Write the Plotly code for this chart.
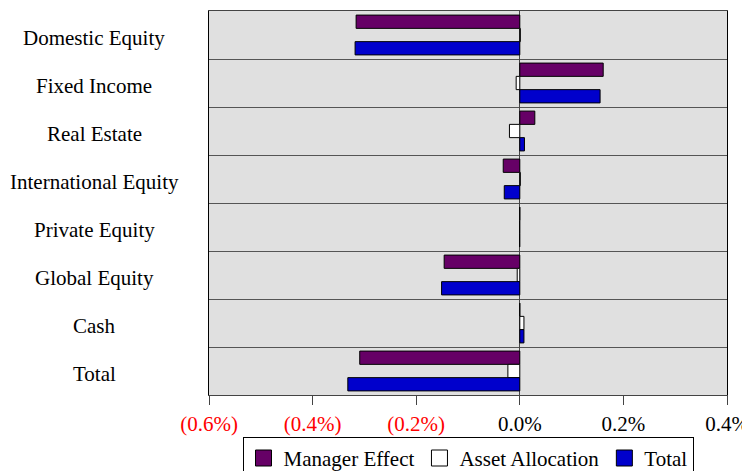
import plotly.graph_objects as go

categories = ["Domestic Equity", "Fixed Income", "Real Estate", "International Equity",
              "Private Equity", "Global Equity", "Cash", "Total"]
manager_effect = [-0.316, 0.161, 0.029, -0.032, 0.0, -0.146, 0.0, -0.309]
asset_allocation = [0.001, -0.007, -0.020, 0.001, -0.0004, -0.005, 0.008, -0.023]
total = [-0.318, 0.155, 0.009, -0.030, -0.0004, -0.151, 0.008, -0.332]

series_names = ["Manager Effect", "Asset Allocation", "Total"]
series_colors = ["#660066", "#FFFFFF", "#0000CC"]

tick_vals = [-0.6, -0.4, -0.2, 0.0, 0.2, 0.4]
tick_text = ['<span style="color:#FF0000">(0.6%)</span>',
             '<span style="color:#FF0000">(0.4%)</span>',
             '<span style="color:#FF0000">(0.2%)</span>',
             '0.0%', '0.2%', '0.4%']

font_family = "Liberation Serif"

fig = go.Figure()
for name, vals, color in zip(series_names, [manager_effect, asset_allocation, total], series_colors):
    fig.add_trace(go.Bar(
        y=categories, x=vals, name=name, orientation="h", showlegend=False,
        marker=dict(color=color, line=dict(color="#000000", width=1)),
    ))
# legend entries with larger square swatches
for name, color in zip(series_names, series_colors):
    fig.add_trace(go.Scatter(
        x=[None], y=[None], mode="markers", name=name, showlegend=True,
        marker=dict(symbol="square", size=19, color=color,
                    line=dict(color="#000000", width=1)),
    ))

# centered category labels to the left of the plot area
for cat in categories:
    fig.add_annotation(
        x=-0.222, xref="paper", y=cat, yref="y", text=cat, showarrow=False,
        xanchor="center", yanchor="middle", yshift=-3,
        font=dict(family=font_family, size=21, color="black"),
    )

# note: page body has an 8px default margin, margins compensate for it
fig.update_layout(
    width=750, height=471,
    margin=dict(l=201, r=31, t=3, b=84, autoexpand=False),
    paper_bgcolor="white",
    plot_bgcolor="#E0E0E0",
    barmode="group",
    bargap=0.17,
    bargroupgap=0,
    font=dict(family=font_family, size=21, color="black"),
    showlegend=True,
    legend=dict(orientation="h", x=0.5, xanchor="center", y=-0.109, yanchor="top",
                bgcolor="white", bordercolor="black", borderwidth=1,
                font=dict(family=font_family, size=21, color="black"),
                itemclick=False, tracegroupgap=0, itemsizing="trace"),
)
fig.update_xaxes(
    range=[-0.6, 0.4], tickvals=tick_vals, ticktext=tick_text,
    tickfont=dict(family=font_family, size=21, color="black"),
    showgrid=False, zeroline=True, zerolinecolor="#444444", zerolinewidth=1,
    ticks="outside", ticklen=9, tickcolor="#444444", ticklabelstandoff=1,
    showline=True, linecolor="#444444", linewidth=1, mirror=True,
    fixedrange=True, automargin=False,
)
fig.update_yaxes(
    autorange="reversed", tickson="boundaries", showgrid=True,
    gridcolor="#555555", gridwidth=1, ticks="", ticklen=0, showticklabels=False,
    showline=True, linecolor="#000000", linewidth=1, mirror=True,
    fixedrange=True, automargin=False,
)

fig.write_html("out.html")
